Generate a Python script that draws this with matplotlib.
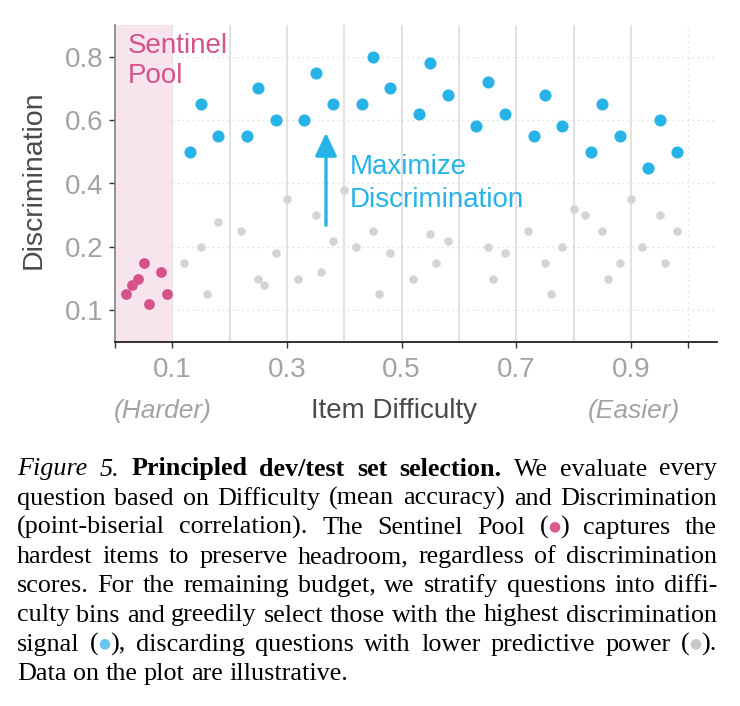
import numpy as np
import matplotlib
matplotlib.use('Agg')
import matplotlib.pyplot as plt
from matplotlib.transforms import blended_transform_factory

# sentinel pool (hardest items)
sentinel_x = [0.02, 0.03, 0.04, 0.05, 0.06, 0.08, 0.09]
sentinel_y = [0.125, 0.14, 0.15, 0.175, 0.11, 0.16, 0.125]

# selected items (highest discrimination per bin)
selected_x = [0.13, 0.15, 0.18, 0.23, 0.25, 0.28, 0.33, 0.35, 0.38, 0.43, 0.45, 0.48, 0.53, 0.55,
              0.58, 0.63, 0.65, 0.68, 0.73, 0.75, 0.78, 0.83, 0.85, 0.88, 0.93, 0.95, 0.98]
selected_y = [0.5, 0.65, 0.55, 0.55, 0.7, 0.6, 0.6, 0.75, 0.65, 0.65, 0.8, 0.7, 0.62, 0.78,
              0.68, 0.58, 0.72, 0.62, 0.55, 0.68, 0.58, 0.5, 0.65, 0.55, 0.45, 0.6, 0.5]

# discarded items
discarded_x = [0.12, 0.15, 0.16, 0.18, 0.22, 0.25, 0.26, 0.28, 0.30, 0.32, 0.35, 0.36, 0.38,
               0.40, 0.42, 0.45, 0.46, 0.48, 0.52, 0.55, 0.56, 0.58, 0.65, 0.66, 0.68, 0.72,
               0.75, 0.76, 0.78, 0.80, 0.82, 0.85, 0.86, 0.88, 0.90, 0.92, 0.95, 0.96, 0.98]
discarded_y = [0.175, 0.2, 0.125, 0.28, 0.25, 0.15, 0.14, 0.19, 0.35, 0.15, 0.30, 0.16, 0.22,
               0.38, 0.2, 0.25, 0.125, 0.19, 0.15, 0.24, 0.175, 0.22, 0.2, 0.15, 0.19, 0.25,
               0.175, 0.125, 0.2, 0.32, 0.30, 0.25, 0.15, 0.175, 0.35, 0.2, 0.30, 0.175, 0.25]

x_ticks = [0.1, 0.3, 0.5, 0.7, 0.9]
y_ticks = [0.1, 0.2, 0.4, 0.6, 0.8]
bin_edges = [0.1, 0.2, 0.3, 0.4, 0.5, 0.6, 0.7, 0.8, 0.9]

caption = [
    "Figure 5. Principled dev/test set selection. We evaluate every",
    "question based on Difficulty (mean accuracy) and Discrimination",
    "(point-biserial correlation). The Sentinel Pool (\u2460) captures the",
    "hardest items to preserve headroom, regardless of discrimination",
    "scores. For the remaining budget, we stratify questions into diffi-",
    "culty bins and greedily select those with the highest discrimination",
    "signal (\u2461), discarding questions with lower predictive power (\u2462).",
    "Data on the plot are illustrative.",
]

PINK = '#d6528b'
BLUE = '#26b3e8'
GRAY = '#d4d4d4'
SPAN = '#f8e4ec'
TICKC = '#a3a3a3'
LABC = '#4a4a4a'

plt.rcParams['font.family'] = ['Liberation Sans', 'DejaVu Sans']

W, H = 740, 706
fig = plt.figure(figsize=(W / 100, H / 100), dpi=100)
ax = fig.add_axes([115 / W, 1 - 342 / H, 602 / W, 317 / H])


# y axis is stretched below 0.2
def fwd(y):
    y = np.asarray(y, dtype=float)
    return np.where(y <= 0.2, y, 0.2 + (y - 0.2) / 2)


def inv(t):
    t = np.asarray(t, dtype=float)
    return np.where(t <= 0.2, t, 0.2 + (t - 0.2) * 2)


ax.set_yscale('function', functions=(fwd, inv))
ax.set_xlim(0, 1.05)
ax.set_ylim(0.05, 0.9)

ax.axvspan(0, 0.1, color=SPAN, lw=0, zorder=1)
for e in bin_edges:
    ax.axvline(e, color='#e2e2e2', lw=1.4, zorder=0)
ax.axvline(1.0, color='#dddddd', lw=1.0, ls=(0, (1, 3)), zorder=0)
for yt in y_ticks:
    ax.plot([0.1, 1.05], [yt, yt], color='#d8d8d8', lw=0.9, ls=(0, (1, 3)), zorder=0)

ax.scatter(discarded_x, discarded_y, s=38, color=GRAY, lw=0, zorder=3)
ax.scatter(selected_x, selected_y, s=76, color=BLUE, lw=0, zorder=4)
ax.scatter(sentinel_x, sentinel_y, s=60, color=PINK, lw=0, zorder=4)

ax.annotate('', xy=(0.368, 0.56), xytext=(0.368, 0.268),
            arrowprops=dict(arrowstyle='-|>,head_length=1.4,head_width=0.66',
                            color=BLUE, lw=2.4, shrinkA=0, shrinkB=0), zorder=5)

ax.set_xticks([0.0] + x_ticks + [1.0])
ax.set_xticklabels([''] + ['%.1f' % v for v in x_ticks] + [''])
ax.set_yticks(y_ticks)
ax.set_yticklabels(['%.1f' % v for v in y_ticks])
ax.yaxis.set_minor_locator(matplotlib.ticker.NullLocator())
ax.tick_params(axis='both', labelsize=20, labelcolor=TICKC, color='#333333',
               length=4.5, width=1.0)
ax.tick_params(axis='x', pad=6)
ax.tick_params(axis='y', pad=4)

for s in ['top', 'right']:
    ax.spines[s].set_visible(False)
ax.spines['left'].set_color('#8a8a8a')
ax.spines['left'].set_linewidth(1.3)
ax.spines['bottom'].set_color('#222222')
ax.spines['bottom'].set_linewidth(1.3)

ax.text(-0.1345, 0.511, 'Discrimination', transform=ax.transAxes, rotation=90,
        ha='center', va='center', fontsize=20.5, color=LABC)
ax.text(0.4635, -0.2397, 'Item Difficulty', transform=ax.transAxes,
        ha='center', va='baseline', fontsize=20, color=LABC)
bt = blended_transform_factory(ax.transData, ax.transAxes)
ax.text(0.083, -0.2397, '(Harder)', transform=bt, ha='center', va='baseline',
        fontsize=19, style='italic', color=TICKC)
ax.text(0.905, -0.2397, '(Easier)', transform=bt, ha='center', va='baseline',
        fontsize=19, style='italic', color=TICKC)

ax.text(0.0216, 0.9126, 'Sentinel', transform=ax.transAxes, va='baseline',
        fontsize=20, color=PINK, zorder=6)
ax.text(0.0216, 0.816, 'Pool', transform=ax.transAxes, va='baseline',
        fontsize=20, color=PINK, zorder=6)
ax.text(0.390, 0.530, 'Maximize', transform=ax.transAxes, va='baseline',
        fontsize=20, color=BLUE, zorder=6)
ax.text(0.390, 0.4268, 'Discrimination', transform=ax.transAxes, va='baseline',
        fontsize=20, color=BLUE, zorder=6)

# caption, justified word by word
renderer = fig.canvas.get_renderer()
cap_kw = dict(family='Liberation Serif', fontsize=18.8, va='baseline', ha='left')
dot_col = {'\u2460': '#d9598f', '\u2461': '#6cc4ec', '\u2462': '#c9c9c9'}
dot_kw = dict(family='DejaVu Sans', fontsize=10)
dot_lift = 3.5  # px
left, right = 17, 717
base0, step = 475.5, 29.2

for li, line in enumerate(caption):
    y = 1 - (base0 + li * step) / H
    words = line.split(' ')
    pieces = []
    for wi, w in enumerate(words):
        segs = []
        if li == 0 and wi < 2:
            segs.append((w, dict(style='italic')))
        elif li == 0 and wi < 6:
            segs.append((w, dict(weight='bold')))
        else:
            buf = ''
            for ch in w:
                if ch in dot_col:
                    if buf:
                        segs.append((buf, {}))
                        buf = ''
                    segs.append(('\u25cf', dict(dot_kw, color=dot_col[ch])))
                else:
                    buf += ch
            if buf:
                segs.append((buf, {}))
        items = []
        wlen = 0
        for txt, kw in segs:
            yy = y + (dot_lift / H if txt == '\u25cf' else 0)
            t = fig.text(0, yy, txt, **dict(cap_kw, **kw))
            wd = t.get_window_extent(renderer).width
            items.append((t, wlen))
            wlen += wd
        pieces.append((items, wlen))
    total = sum(p[1] for p in pieces)
    if li == len(caption) - 1:
        gap = 0.25 * 18.8 * 100 / 72
    else:
        gap = (right - left - total) / (len(pieces) - 1)
    x = left
    for items, wlen in pieces:
        for t, off in items:
            t.set_x((x + off) / W)
        x += wlen + gap

fig.savefig('out.png', dpi=100)
